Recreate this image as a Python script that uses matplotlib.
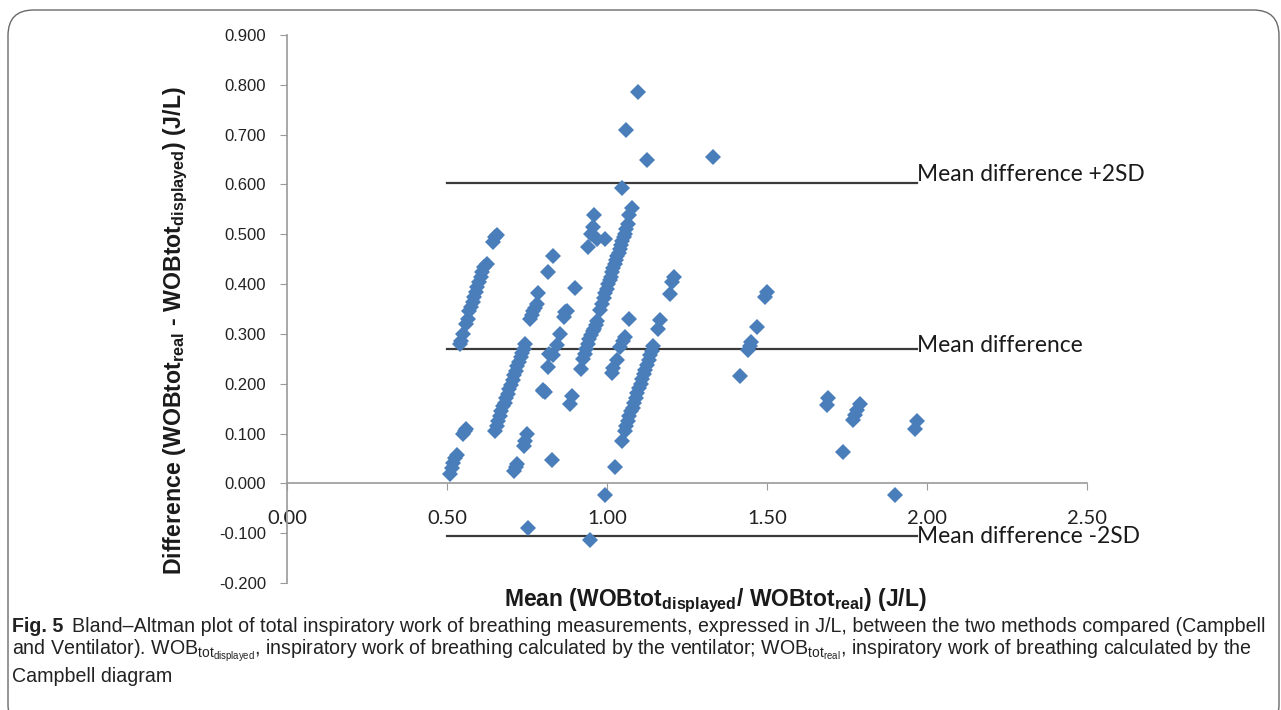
import numpy as np
import matplotlib.pyplot as plt
from matplotlib.patches import FancyBboxPatch

plt.rcParams['mathtext.fontset'] = 'custom'
plt.rcParams['mathtext.rm'] = 'Liberation Sans'
plt.rcParams['mathtext.bf'] = 'Liberation Sans:bold'

# Bland-Altman points: mean of the two methods (J/L) vs difference (J/L)
mean_vals = [
    # streak near 0.55-0.65
    0.54, 0.545, 0.55, 0.56, 0.565, 0.57, 0.575, 0.58, 0.585, 0.59, 0.595, 0.60,
    0.605, 0.61, 0.615, 0.625, 0.645, 0.65, 0.655,
    # low left cluster
    0.51, 0.515, 0.52, 0.525, 0.53, 0.55, 0.555, 0.56,
    # streak near 0.65-0.75
    0.65, 0.655, 0.66, 0.665, 0.67, 0.675, 0.68, 0.685, 0.69, 0.695, 0.70, 0.705,
    0.71, 0.715, 0.72, 0.725, 0.73, 0.735, 0.74, 0.745,
    0.71, 0.715, 0.72, 0.74, 0.745, 0.75, 0.753,
    # around 0.76-0.90
    0.76, 0.765, 0.77, 0.775, 0.78, 0.785, 0.80, 0.816, 0.83,
    0.80, 0.805, 0.815, 0.82, 0.83, 0.843, 0.853, 0.865, 0.87, 0.875,
    0.884, 0.89, 0.90, 0.828,
    # streak near 0.92-0.97
    0.92, 0.925, 0.93, 0.935, 0.94, 0.945, 0.95, 0.955, 0.96, 0.965, 0.97,
    0.94, 0.95, 0.956, 0.96, 0.97, 0.994, 0.947, 0.994,
    # big streak near 0.98-1.08
    0.978, 0.984, 0.99, 0.995, 1.0, 1.004, 1.008, 1.012, 1.016, 1.02, 1.024,
    1.028, 1.032, 1.036, 1.04, 1.044, 1.048, 1.052, 1.056, 1.06, 1.065,
    1.07, 1.078, 1.047, 1.06, 1.097, 1.125,
    # 1.01-1.07 mid
    1.016, 1.02, 1.03, 1.04, 1.05, 1.056, 1.07, 1.025,
    # streak near 1.05-1.15
    1.047, 1.055, 1.06, 1.065, 1.07, 1.075, 1.08, 1.085, 1.09, 1.095, 1.10,
    1.105, 1.11, 1.115, 1.12, 1.125, 1.13, 1.135, 1.14, 1.145,
    1.16, 1.166, 1.197, 1.203, 1.21,
    # right side
    1.331, 1.416, 1.44, 1.447, 1.45, 1.468, 1.494, 1.50,
    1.687, 1.69, 1.737, 1.77, 1.775, 1.78, 1.79, 1.90, 1.962, 1.97,
]
diff_vals = [
    0.28, 0.285, 0.30, 0.32, 0.33, 0.345, 0.355, 0.365, 0.375, 0.385, 0.395, 0.405,
    0.415, 0.425, 0.435, 0.44, 0.485, 0.495, 0.498,
    0.018, 0.03, 0.04, 0.05, 0.057, 0.10, 0.105, 0.11,
    0.105, 0.115, 0.125, 0.135, 0.145, 0.155, 0.162, 0.172, 0.18, 0.19, 0.198, 0.208,
    0.217, 0.226, 0.235, 0.244, 0.253, 0.262, 0.27, 0.279,
    0.025, 0.032, 0.038, 0.075, 0.085, 0.10, -0.09,
    0.33, 0.337, 0.345, 0.352, 0.36, 0.382, 0.185, 0.424, 0.457,
    0.188, 0.183, 0.233, 0.26, 0.257, 0.277, 0.30, 0.333, 0.343, 0.345,
    0.16, 0.175, 0.392, 0.046,
    0.23, 0.25, 0.26, 0.27, 0.28, 0.29, 0.298, 0.305, 0.31, 0.318, 0.325,
    0.474, 0.50, 0.514, 0.538, 0.49, 0.49, -0.113, -0.024,
    0.347, 0.36, 0.372, 0.382, 0.39, 0.40, 0.408, 0.415, 0.424, 0.432, 0.44,
    0.448, 0.456, 0.462, 0.47, 0.478, 0.486, 0.494, 0.50, 0.51, 0.52,
    0.538, 0.552, 0.592, 0.709, 0.785, 0.649,
    0.222, 0.232, 0.247, 0.273, 0.285, 0.293, 0.33, 0.032,
    0.086, 0.105, 0.115, 0.125, 0.135, 0.145, 0.152, 0.162, 0.172, 0.182, 0.192,
    0.20, 0.21, 0.22, 0.228, 0.238, 0.247, 0.257, 0.266, 0.275,
    0.31, 0.327, 0.38, 0.404, 0.414,
    0.655, 0.216, 0.267, 0.275, 0.283, 0.313, 0.374, 0.384,
    0.157, 0.171, 0.062, 0.127, 0.137, 0.147, 0.159, -0.024, 0.11, 0.126,
]

mean_diff = 0.270
upper_loa = 0.602
lower_loa = -0.106
loa_x = [0.50, 1.97]

W, H = 1281, 710
fig = plt.figure(figsize=(W / 100, H / 100), dpi=100)

def fx(px):
    return px / W

def fy(py):
    return 1 - py / H

ax = fig.add_axes([fx(287), fy(583), fx(1087) - fx(287), fy(35) - fy(583)])
ax.set_xlim(0, 2.5)
ax.set_ylim(-0.2, 0.9)

ax.plot(mean_vals, diff_vals, 'D', color='#4a7ebb', markersize=8,
        markeredgewidth=0, zorder=3)

for yv in [upper_loa, mean_diff, lower_loa]:
    ax.plot(loa_x, [yv, yv], color='#3a3a3a', linewidth=1.6, zorder=2)

lab_font = dict(family=['Lato', 'DejaVu Sans'], fontsize=16.4, color='#1a1a1a',
                va='center', ha='left')
ax.text(1.97, 0.619, 'Mean difference +2SD', **lab_font)
ax.text(1.97, 0.277, 'Mean difference', **lab_font)
ax.text(1.97, -0.106, 'Mean difference -2SD', **lab_font)

for s in ['top', 'right']:
    ax.spines[s].set_visible(False)
ax.spines['left'].set_position(('data', 0))
ax.spines['bottom'].set_position(('data', 0))
for s in ['left', 'bottom']:
    ax.spines[s].set_color('#9a9a9a')
    ax.spines[s].set_linewidth(1.2)

ax.set_xticks(np.arange(0, 2.51, 0.5))
ax.set_xticklabels([f'{v:.2f}' for v in np.arange(0, 2.51, 0.5)],
                   family=['Lato', 'DejaVu Sans'], fontsize=14.5)
ax.set_yticks(np.arange(-0.2, 0.91, 0.1))
ax.set_yticklabels([f'{v:.3f}' for v in np.arange(-0.2, 0.91, 0.1)],
                   family=['Liberation Sans', 'DejaVu Sans'], fontsize=12)
ax.tick_params(axis='x', direction='out', length=5, color='#9a9a9a', pad=14,
               labelcolor='#222222')
ax.tick_params(axis='y', direction='out', length=5, color='#9a9a9a', pad=10,
               labelcolor='#222222')

fig.text(fx(176), fy(331),
         r'Difference (WOBtot$_{\mathbf{real}}$ - WOBtot$_{\mathbf{displayed}}$) (J/L)',
         rotation=90, ha='center', va='center', fontsize=16.7, fontweight='bold',
         family=['Liberation Sans', 'DejaVu Sans'], color='#1a1a1a')
fig.text(fx(715), fy(601),
         r'Mean (WOBtot$_{\mathbf{displayed}}$/ WOBtot$_{\mathbf{real}}$) (J/L)',
         ha='center', va='center', fontsize=16.5, fontweight='bold',
         family=['Liberation Sans', 'DejaVu Sans'], color='#1a1a1a')

# caption: size chosen so the first line fills the same width as the reference
cap_font = ['Liberation Sans', 'DejaVu Sans']
renderer = fig.canvas.get_renderer()

fig_lbl = fig.text(fx(12), fy(626), 'Fig. 5', ha='left', va='center',
                   fontsize=13, fontweight='bold', family=cap_font, color='#222222')
line1 = fig.text(fx(72), fy(626), 'Bland\u2013Altman plot of total inspiratory work of '
                 'breathing measurements, expressed in J/L, between the two methods '
                 'compared (Campbell', ha='left', va='center', fontsize=13,
                 family=cap_font, color='#222222')
cap_size = 13 * (1256 - 72) / line1.get_window_extent(renderer).width
line1.set_fontsize(cap_size)
fig_lbl.set_fontsize(cap_size)

fig.text(fx(12), fy(651), r'and Ventilator). WOB$_{\mathrm{tot}_{\mathrm{displayed}}}$, '
         r'inspiratory work of breathing calculated by the ventilator; '
         r'WOB$_{\mathrm{tot}_{\mathrm{real}}}$, inspiratory work of breathing '
         r'calculated by the', ha='left', va='center', fontsize=cap_size,
         family=cap_font, color='#222222')
fig.text(fx(12), fy(676), 'Campbell diagram', ha='left', va='center',
         fontsize=cap_size, family=cap_font, color='#222222')

border = FancyBboxPatch((fx(8), fy(730)), fx(1279) - fx(8), fy(10) - fy(730),
                        boxstyle='round,pad=0,rounding_size=0.02',
                        transform=fig.transFigure, fill=False,
                        edgecolor='#6a6a6a', linewidth=1.0, mutation_aspect=W / H)
fig.patches.append(border)

fig.savefig('out.png', dpi=100)
